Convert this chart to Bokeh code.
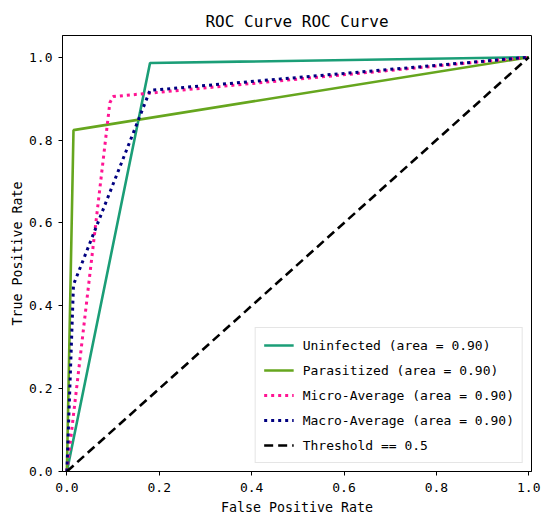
from bokeh.plotting import figure
from bokeh.models import Range1d, FixedTicker, PrintfTickFormatter, Legend, LegendItem
from bokeh.embed import file_html
from bokeh.resources import INLINE

# ---- data ----
uninf_fpr = [0.0, 0.18, 1.0]
uninf_tpr = [0.0, 0.986, 1.0]

para_fpr = [0.0, 0.0143, 1.0]
para_tpr = [0.0, 0.824, 1.0]

micro_fpr = [0.0, 0.093, 0.10, 1.0]
micro_tpr = [0.0, 0.89, 0.905, 1.0]

macro_fpr = [0.0, 0.0143, 0.18, 1.0]
macro_tpr = [0.0, 0.451, 0.920, 1.0]

thr_x = [0.0, 1.0]
thr_y = [0.0, 1.0]

labels = [
    "Uninfected (area = 0.90)",
    "Parasitized (area = 0.90)",
    "Micro-Average (area = 0.90)",
    "Macro-Average (area = 0.90)",
    "Threshold == 0.5",
]
ticks = [0.0, 0.2, 0.4, 0.6, 0.8, 1.0]

FONT = "DejaVu Sans Mono"

p = figure(width=542, height=519, output_backend="svg", toolbar_location=None,
           x_range=Range1d(-0.0095, 1.0059), y_range=Range1d(0.0, 1.0525),
           min_border_left=62, min_border_right=11, min_border_top=35, min_border_bottom=48,
           title="ROC Curve ROC Curve")

p.title.align = "center"
p.title.text_font = FONT
p.title.text_font_size = "16px"
p.title.text_font_style = "normal"
p.title.text_color = "black"
p.title.standoff = 10

p.xgrid.visible = False
p.ygrid.visible = False
p.outline_line_color = "black"
p.outline_line_width = 1

for ax in (p.xaxis[0], p.yaxis[0]):
    ax.ticker = FixedTicker(ticks=ticks)
    ax.formatter = PrintfTickFormatter(format="%.1f")
    ax.minor_tick_line_color = None
    ax.major_tick_out = 4
    ax.major_tick_in = 0
    ax.axis_line_color = "black"
    ax.major_tick_line_color = "black"
    ax.major_label_text_font = FONT
    ax.major_label_text_font_size = "13px"
    ax.major_label_text_color = "black"
    ax.axis_label_text_font = FONT
    ax.axis_label_text_font_size = "13.3px"
    ax.axis_label_text_font_style = "normal"
    ax.axis_label_text_color = "black"

p.xaxis.major_label_standoff = 7
p.yaxis.major_label_standoff = 6
p.xaxis.axis_label = "False Positive Rate"
p.yaxis.axis_label = "True Positive Rate"
p.xaxis.axis_label_standoff = 5
p.yaxis.axis_label_standoff = 1

r1 = p.line(uninf_fpr, uninf_tpr, line_color="#1b9e77", line_width=2.6)
r2 = p.line(para_fpr, para_tpr, line_color="#66a61e", line_width=2.6)
r3 = p.line(micro_fpr, micro_tpr, line_color="#ff1493", line_width=3, line_dash="3 4")
r4 = p.line(macro_fpr, macro_tpr, line_color="#000080", line_width=3, line_dash="3 4")
r5 = p.line(thr_x, thr_y, line_color="black", line_width=2.6, line_dash="9 5")

legend = Legend(items=[LegendItem(label=l, renderers=[r]) for l, r in zip(labels, [r1, r2, r3, r4, r5])],
                location="bottom_right")
legend.label_text_font = FONT
legend.label_text_font_size = "13px"
legend.label_text_color = "black"
legend.glyph_width = 30
legend.glyph_height = 18
legend.label_height = 18
legend.spacing = 7
legend.padding = 8
legend.margin = 8
legend.label_standoff = 9
legend.border_line_color = "#cccccc"
legend.border_line_width = 1
legend.background_fill_alpha = 0.85
p.add_layout(legend)

open("out.html", "w").write(file_html(p, INLINE))
